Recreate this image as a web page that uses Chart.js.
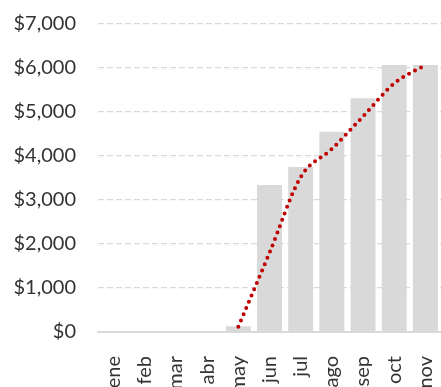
<!DOCTYPE html>
<html lang="es">

<head>
    <meta charset="UTF-8">
    <meta name="viewport" content="width=device-width, initial-scale=1.0">
    <title>Ventas acumuladas</title>

    <script src="https://cdn.jsdelivr.net/npm/chart.js"></script>

    <style>
        html, body {
            margin: 0;
            padding: 0;
            background: #fff;
            overflow: hidden;
        }

        .grafico {
            position: relative;
            width: 441px;
            height: 387px;
        }
    </style>
</head>

<body>

    <div class="grafico">
        <canvas id="graficoVentas"></canvas>
    </div>

</body>

</html>

<script>
    // meses y montos
    var meses = ['ene', 'feb', 'mar', 'abr', 'may', 'jun', 'jul', 'ago', 'sep', 'oct', 'nov'];
    var ventas = [0, 0, 0, 0, 130, 3340, 3750, 4550, 5310, 6070, 6070];
    var tendencia = [null, null, null, null, 120, 1800, 3520, 4160, 4900, 5650, 6070];
    var ticksY = [0, 1000, 2000, 3000, 4000, 5000, 6000, 7000];

    function carregarGrafico() {
        const ctx = document.getElementById('graficoVentas').getContext('2d');

        Chart.defaults.font.family = 'Lato';
        Chart.defaults.font.size = 20;
        Chart.defaults.color = '#333';

        new Chart(ctx, {
            type: 'bar',
            data: {
                labels: meses,
                datasets: [
                    {
                        type: 'line',
                        data: tendencia,
                        borderColor: '#C00000',
                        borderWidth: 4,
                        borderDash: [0, 6.8],
                        borderCapStyle: 'round',
                        pointRadius: 0,
                        cubicInterpolationMode: 'monotone',
                        order: 0
                    },
                    {
                        data: ventas,
                        backgroundColor: '#D9D9D9',
                        barPercentage: 0.8,
                        categoryPercentage: 1,
                        order: 1
                    }
                ]
            },
            options: {
                responsive: true,
                maintainAspectRatio: false,
                animation: false,
                layout: { padding: { top: 24, left: 0, right: 0, bottom: 0 } },
                plugins: {
                    legend: { display: false },
                    tooltip: { enabled: false }
                },
                scales: {
                    x: {
                        grid: { display: false },
                        border: { display: true, color: '#D9D9D9', width: 2 },
                        ticks: { minRotation: 90, maxRotation: 90, padding: 16 },
                        afterFit: function (scale) {
                            scale.height = 55;
                            scale.paddingLeft = 0;
                            scale.paddingRight = 0;
                        }
                    },
                    y: {
                        min: 0,
                        max: 7000,
                        afterBuildTicks: function (scale) {
                            scale.ticks = ticksY.map(v => ({ value: v }));
                        },
                        grid: { color: '#D9D9D9', lineWidth: 1.3, drawTicks: false },
                        border: { display: false, dash: [6, 3] },
                        ticks: {
                            padding: 22,
                            callback: v => '$' + v.toLocaleString('en-US')
                        },
                        afterFit: function (scale) {
                            scale.width = 98;
                            scale.paddingTop = 0;
                            scale.paddingBottom = 0;
                        }
                    }
                }
            }
        });
    }

    window.onload = () => {
        carregarGrafico();
    };
</script>
